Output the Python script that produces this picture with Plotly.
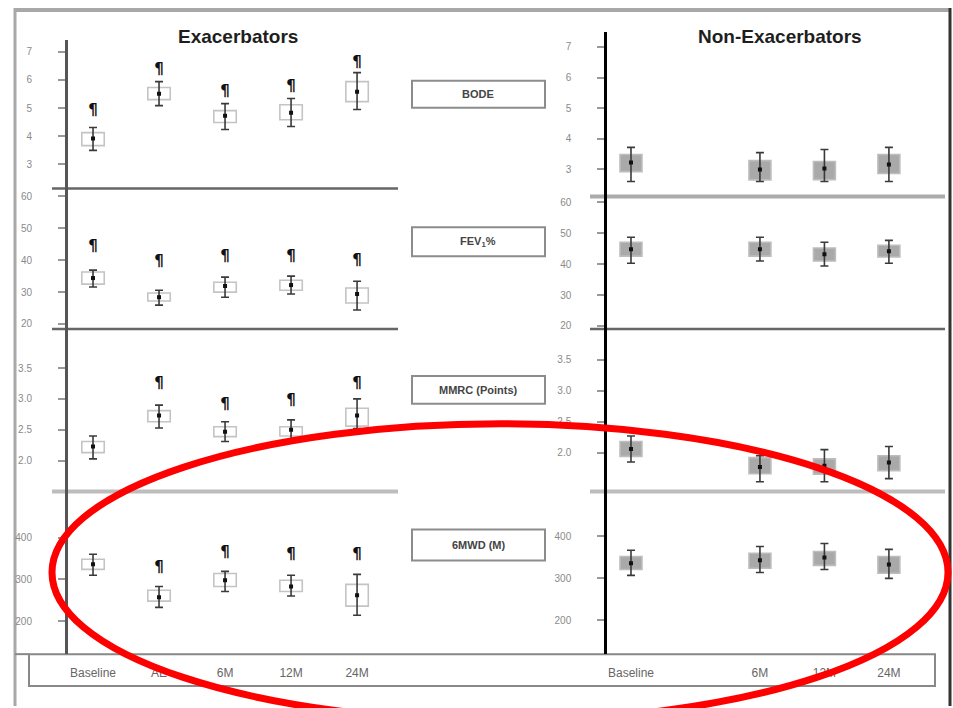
import plotly.graph_objects as go

W, H = 953, 708

# ---------------- data ----------------
categories = ["Baseline", "AE", "6M", "12M", "24M"]

# Exacerbators
exa_bode_median = [3.92, 5.51, 4.73, 4.84, 5.58]
exa_bode_q1 = [3.67, 5.30, 4.49, 4.59, 5.23]
exa_bode_q3 = [4.13, 5.73, 4.91, 5.12, 5.94]
exa_bode_low = [3.50, 5.09, 4.24, 4.35, 4.95]
exa_bode_high = [4.31, 5.94, 5.16, 5.34, 6.26]
exa_bode_sig = [4.88, 6.36, 5.55, 5.73, 6.60]

exa_fev_median = [34.4, 28.4, 31.9, 32.2, 29.4]
exa_fev_q1 = [32.5, 27.2, 30.0, 30.6, 26.6]
exa_fev_q3 = [36.3, 29.7, 33.1, 33.7, 31.3]
exa_fev_low = [31.6, 25.9, 28.4, 29.4, 24.4]
exa_fev_high = [36.9, 30.6, 34.7, 35.0, 33.4]
exa_fev_sig = [44.0, 39.4, 41.0, 41.0, 39.7]

exa_mmrc_median = [2.23, 2.73, 2.47, 2.50, 2.73]
exa_mmrc_q1 = [2.13, 2.63, 2.39, 2.40, 2.56]
exa_mmrc_q3 = [2.31, 2.81, 2.55, 2.55, 2.85]
exa_mmrc_low = [2.03, 2.53, 2.31, 2.35, 2.52]
exa_mmrc_high = [2.40, 2.90, 2.63, 2.66, 3.00]
exa_mmrc_sig = [None, 3.24, 2.89, 2.97, 3.24]

exa_6mwd_median = [336, 257, 298, 283, 262]
exa_6mwd_q1 = [324, 248, 283, 271, 236]
exa_6mwd_q3 = [348, 274, 314, 298, 288]
exa_6mwd_low = [310, 233, 271, 260, 214]
exa_6mwd_high = [360, 283, 319, 310, 312]
exa_6mwd_sig = [None, 326, 362, 357, 357]

# Non-exacerbators (no AE time point)
non_bode_median = [3.23, None, 3.00, 3.03, 3.16]
non_bode_q1 = [2.93, None, 2.66, 2.67, 2.87]
non_bode_q3 = [3.49, None, 3.29, 3.26, 3.49]
non_bode_low = [2.61, None, 2.61, 2.61, 2.61]
non_bode_high = [3.72, None, 3.55, 3.65, 3.72]

non_fev_median = [44.8, None, 44.8, 43.2, 44.2]
non_fev_q1 = [42.6, None, 42.6, 41.0, 42.3]
non_fev_q3 = [47.1, None, 47.1, 45.2, 46.1]
non_fev_low = [40.3, None, 41.0, 39.4, 40.3]
non_fev_high = [48.7, None, 48.7, 47.1, 47.7]

non_mmrc_median = [2.06, None, 1.77, 1.79, 1.84]
non_mmrc_q1 = [1.94, None, 1.66, 1.65, 1.71]
non_mmrc_q3 = [2.18, None, 1.92, 1.90, 1.95]
non_mmrc_low = [1.85, None, 1.53, 1.53, 1.58]
non_mmrc_high = [2.27, None, 1.95, 2.05, 2.10]

non_6mwd_median = [336, None, 343, 350, 333]
non_6mwd_q1 = [321, None, 324, 331, 312]
non_6mwd_q3 = [352, None, 360, 364, 352]
non_6mwd_low = [307, None, 314, 321, 300]
non_6mwd_high = [367, None, 376, 383, 369]

bode_ticks = [3, 4, 5, 6, 7]
fev_ticks = [20, 30, 40, 50, 60]
mmrc_ticks = [2.0, 2.5, 3.0, 3.5]
mwd_ticks = [200, 300, 400]
measure_labels = ["BODE", "FEV<sub>1</sub>%", "MMRC (Points)", "6MWD (M)"]

# ---------------- helpers ----------------
def PX(x):
    return x / W


def PY(y):
    return 1 - y / H


fig = go.Figure()

LEFT_X = (68, 398)
RIGHT_X = (607, 945)
left_rows = [(40, 189), (189, 330), (330, 493), (493, 656)]
right_rows = [(32, 197), (197, 330), (330, 493), (493, 656)]

panels = [
    ("L", 0, exa_bode_median, exa_bode_q1, exa_bode_q3, exa_bode_low, exa_bode_high, exa_bode_sig, [2.15, 7.42], bode_ticks, "d"),
    ("L", 1, exa_fev_median, exa_fev_q1, exa_fev_q3, exa_fev_low, exa_fev_high, exa_fev_sig, [18.4, 62.5], fev_ticks, "d"),
    ("L", 2, exa_mmrc_median, exa_mmrc_q1, exa_mmrc_q3, exa_mmrc_low, exa_mmrc_high, exa_mmrc_sig, [1.5, 4.13], mmrc_ticks, ".1f"),
    ("L", 3, exa_6mwd_median, exa_6mwd_q1, exa_6mwd_q3, exa_6mwd_low, exa_6mwd_high, exa_6mwd_sig, [121, 510], mwd_ticks, "d"),
    ("R", 0, non_bode_median, non_bode_q1, non_bode_q3, non_bode_low, non_bode_high, None, [2.12, 7.49], bode_ticks, "d"),
    ("R", 1, non_fev_median, non_fev_q1, non_fev_q3, non_fev_low, non_fev_high, None, [19.0, 61.9], fev_ticks, "d"),
    ("R", 2, non_mmrc_median, non_mmrc_q1, non_mmrc_q3, non_mmrc_low, non_mmrc_high, None, [1.37, 4.0], mmrc_ticks, ".1f"),
    ("R", 3, non_6mwd_median, non_6mwd_q1, non_6mwd_q3, non_6mwd_low, non_6mwd_high, None, [119, 507], mwd_ticks, "d"),
]

layout_axes = {}
for i, (col, row, med, q1, q3, lo, hi, sig, yr, ticks, fmt) in enumerate(panels, start=1):
    xa = "x" if i == 1 else f"x{i}"
    ya = "y" if i == 1 else f"y{i}"
    xkey = "xaxis" if i == 1 else f"xaxis{i}"
    ykey = "yaxis" if i == 1 else f"yaxis{i}"
    left = col == "L"
    xs = LEFT_X if left else RIGHT_X
    rows = left_rows if left else right_rows
    top, bot = rows[row]
    xrange = [-0.379, 4.62] if left else [-0.372, 4.87]

    idx = [k for k in range(len(categories)) if med[k] is not None]
    fill = "#ffffff" if left else "#a9a9a9"
    border = "#c4c4c4" if left else "#bdbdbd"

    fig.add_trace(go.Bar(
        x=idx, y=[q3[k] - q1[k] for k in idx], base=[q1[k] for k in idx],
        width=0.34, marker=dict(color=fill, line=dict(color=border, width=1.6)),
        xaxis=xa, yaxis=ya, showlegend=False, hoverinfo="skip"))
    fig.add_trace(go.Scatter(
        x=idx, y=[med[k] for k in idx], mode="markers",
        marker=dict(symbol="square", size=4, color="#111"),
        error_y=dict(type="data", symmetric=False,
                     array=[hi[k] - med[k] for k in idx],
                     arrayminus=[med[k] - lo[k] for k in idx],
                     color="#3a3a3a", thickness=1.6, width=4),
        xaxis=xa, yaxis=ya, showlegend=False, hoverinfo="skip"))
    if sig is not None:
        sidx = [k for k in range(len(categories)) if sig[k] is not None]
        fig.add_trace(go.Scatter(
            x=sidx, y=[sig[k] for k in sidx], mode="text", text=["<b>¶</b>"] * len(sidx),
            textfont=dict(size=15, color="#111", family="DejaVu Sans"),
            xaxis=xa, yaxis=ya, showlegend=False, hoverinfo="skip"))

    xaxis = dict(domain=[PX(xs[0]), PX(xs[1])], range=xrange, anchor=ya,
                 showgrid=False, zeroline=False, showline=False, ticks="",
                 fixedrange=True)
    if row == 3:
        if left:
            xaxis.update(tickvals=list(range(len(categories))), ticktext=categories)
        else:
            ks = [0, 2, 3, 4]
            xaxis.update(tickvals=ks, ticktext=[categories[k] for k in ks])
        xaxis.update(showticklabels=True, ticklabelstandoff=10,
                     tickfont=dict(size=12, color="#666", family="Liberation Sans"))
    else:
        xaxis.update(showticklabels=False)
    yaxis = dict(domain=[PY(bot), PY(top)], range=yr, anchor=xa,
                 tickvals=ticks, tickformat=fmt,
                 showgrid=False, zeroline=False, showline=True,
                 linecolor="#555" if left else "#000", linewidth=3 if left else 2.5,
                 ticks="outside", ticklen=7, tickwidth=1.5, tickcolor="#999",
                 ticklabelstandoff=24,
                 tickfont=dict(size=10, color="#8a8a8a", family="Liberation Sans"),
                 fixedrange=True)
    layout_axes[xkey] = xaxis
    layout_axes[ykey] = yaxis

fig.update_layout(**layout_axes)

shapes = []


def line(x0, y0, x1, y1, color, width, layer="below"):
    shapes.append(dict(type="line", xref="paper", yref="paper",
                       x0=PX(x0), y0=PY(y0), x1=PX(x1), y1=PY(y1),
                       line=dict(color=color, width=width), layer=layer))


def rect(x0, y0, x1, y1, color, width, fill="rgba(0,0,0,0)"):
    shapes.append(dict(type="rect", xref="paper", yref="paper",
                       x0=PX(x0), y0=PY(y0), x1=PX(x1), y1=PY(y1),
                       line=dict(color=color, width=width), fillcolor=fill, layer="below"))


# outer frame
line(15, 10, 950, 10, "#a8a8a8", 4)
line(15, 8, 15, 708, "#a8a8a8", 3)
line(950, 8, 950, 708, "#333333", 3)
# left separators
line(52, 189, 398, 189, "#666", 2.5)
line(52, 330, 398, 330, "#666", 2.5)
line(52, 493, 398, 493, "#bdbdbd", 4)
# right separators
line(590, 197, 945, 197, "#ababab", 4)
line(590, 330, 945, 330, "#666", 2.5)
line(590, 493, 945, 493, "#bdbdbd", 4)
# bottom label strip
line(15, 656, 29, 656, "#888", 2)
rect(29, 656, 935, 688, "#888", 2)
# measure label boxes
label_boxes = [(81, 108), (228, 257), (377, 405), (531, 562)]
for (t, b) in label_boxes:
    rect(412, t, 545, b, "#8c8c8c", 2, "#ffffff")
# red highlight ellipse
shapes.append(dict(type="circle", xref="paper", yref="paper",
                   x0=PX(52), x1=PX(948), y0=PY(425), y1=PY(723),
                   line=dict(color="#ff0000", width=7), layer="above"))

annotations = [
    dict(text="<b>Exacerbators</b>", x=PX(238), y=PY(37), xref="paper", yref="paper",
         xanchor="center", yanchor="middle", showarrow=False,
         font=dict(size=19, color="#1e1e1e", family="Liberation Sans")),
    dict(text="<b>Non-Exacerbators</b>", x=PX(780), y=PY(37), xref="paper", yref="paper",
         xanchor="center", yanchor="middle", showarrow=False,
         font=dict(size=19, color="#1e1e1e", family="Liberation Sans")),
]
for lab, (t, b) in zip(measure_labels, label_boxes):
    annotations.append(dict(text=f"<b>{lab}</b>", x=PX(478), y=PY((t + b) / 2),
                            xref="paper", yref="paper", xanchor="center", yanchor="middle",
                            showarrow=False,
                            font=dict(size=11, color="#444", family="Liberation Sans")))

fig.update_layout(
    width=W, height=H,
    margin=dict(l=0, r=0, t=0, b=0),
    paper_bgcolor="white", plot_bgcolor="white",
    showlegend=False, barmode="overlay",
    shapes=shapes, annotations=annotations,
)

fig.write_html("out.html",
               config={"displayModeBar": False},
               post_script="document.body.style.margin='0';document.body.style.overflow='hidden';")
